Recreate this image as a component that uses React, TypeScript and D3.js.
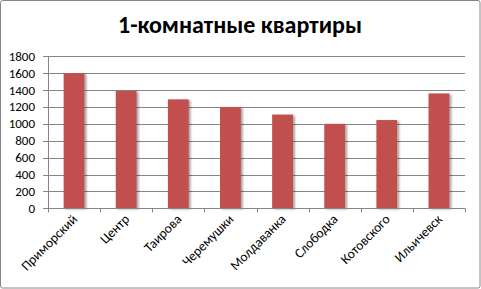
import React from "react";
import * as d3 from "d3";

const title = "1-комнатные квартиры";
const categories = ["Приморский", "Центр", "Таирова", "Черемушки", "Молдаванка", "Слободка", "Котовского", "Ильичевск"];
const values = [1600, 1390, 1290, 1200, 1110, 1000, 1045, 1360];
const yTicks = [0, 200, 400, 600, 800, 1000, 1200, 1400, 1600, 1800];

const W = 481, H = 289;
const left = 48, right = 465, top = 56.3, bottom = 208.3;
const grid = "#868686";
const font = "Carlito, Calibri, 'Liberation Sans', Arial, sans-serif";

export default function App() {
  const x = d3.scaleBand<string>().domain(categories).range([left, right]).paddingInner(0.6).paddingOuter(0.3);
  const xb = d3.scaleBand<string>().domain(categories).range([left, right]);
  const y = d3.scaleLinear().domain([0, 1800]).range([bottom, top]);
  return (
    <svg width={W} height={H} style={{ position: "absolute", left: 0, top: 0 }}>
      <defs>
        <filter id="sh" x="-30%" y="-10%" width="160%" height="120%">
          <feGaussianBlur in="SourceAlpha" stdDeviation="1.2" />
          <feOffset dx="1.5" dy="1" result="b" />
          <feComponentTransfer><feFuncA type="linear" slope="0.35" /></feComponentTransfer>
          <feMerge><feMergeNode /><feMergeNode in="SourceGraphic" /></feMerge>
        </filter>
      </defs>
      <rect x={0.5} y={0.5} width={W - 1.5} height={H - 1.5} fill="#fff" stroke={grid} strokeWidth={1} rx={2} />
      <text x={240} y={33} textAnchor="middle" fontFamily={font} fontWeight="bold" fontSize={24} fill="#000">{title}</text>
      {yTicks.map((t) => (
        <g key={t}>
          <line x1={left - 5} x2={t === 0 ? left : right} y1={Math.round(y(t)) + 0.5} y2={Math.round(y(t)) + 0.5} stroke={grid} strokeWidth={1} />
          <text x={35} y={y(t) + 4.5} textAnchor="end" fontFamily={font} fontSize={13} fill="#000">{t}</text>
        </g>
      ))}
      <line x1={left + 0.5} x2={left + 0.5} y1={top} y2={bottom} stroke={grid} />
      {categories.map((c, i) => (
        <rect key={c} x={x(c)} y={y(values[i])} width={x.bandwidth()} height={bottom - y(values[i])} fill="#C0504D" filter="url(#sh)" />
      ))}
      <line x1={left} x2={right} y1={Math.round(bottom) + 0.5} y2={Math.round(bottom) + 0.5} stroke={grid} />
      {[...categories.map((c) => xb(c)!), right].map((v, i) => (
        <line key={i} x1={Math.round(v) + 0.5} x2={Math.round(v) + 0.5} y1={bottom} y2={bottom + 4} stroke={grid} />
      ))}
      {categories.map((c) => {
        const cx = xb(c)! + xb.bandwidth() / 2 + 4;
        return (
          <text key={c} transform={`translate(${cx},${220}) rotate(-45)`} textAnchor="end" fontFamily={font} fontSize={13.5} fill="#000">{c}</text>
        );
      })}
    </svg>
  );
}
